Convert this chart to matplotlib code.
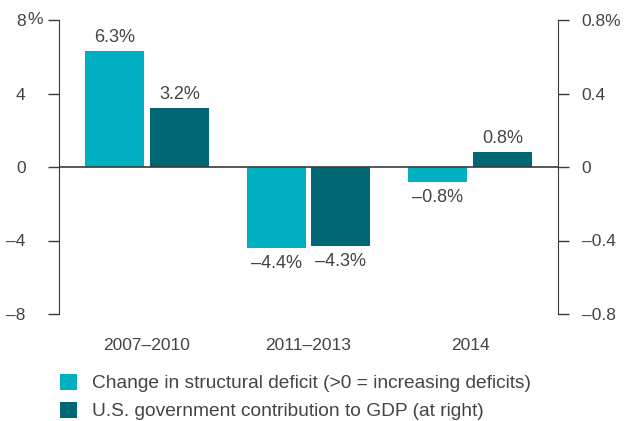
import matplotlib
matplotlib.use("Agg")
import matplotlib.pyplot as plt
import numpy as np

# 데이터
categories = ["2007–2010", "2011–2013", "2014"]
structural_deficit = [6.3, -4.4, -0.8]
gov_contribution = [3.2, -4.3, 0.8]
left_ticks = [-8, -4, 0, 4, 8]
left_tick_labels = ["–8", "–4", "0", "4", "8"]
right_ticks = [-0.8, -0.4, 0, 0.4, 0.8]
right_tick_labels = ["–0.8", "–0.4", "0", "0.4", "0.8%"]
legend_labels = [
    "Change in structural deficit (>0 = increasing deficits)",
    "U.S. government contribution to GDP (at right)",
]

CYAN = "#00b0c2"
DARK = "#006874"
TXT = "#444444"
LINE = "#3a3a3a"
FS = 12.5

plt.rcParams["font.family"] = ["Liberation Sans", "DejaVu Sans"]

fig = plt.figure(figsize=(6.28, 4.21), dpi=100)
ax = fig.add_axes([59 / 628, 1 - 314 / 421, 499 / 628, 294 / 421])

x = np.arange(len(categories))
w = 0.365
off = 0.2
b1 = ax.bar(x - off, structural_deficit, w, color=CYAN, zorder=2)
b2 = ax.bar(x + off, gov_contribution, w, color=DARK, zorder=2)

ax.set_xlim(-0.545, 2.545)
ax.set_ylim(-8, 8)
ax.axhline(0, color=LINE, lw=1.2, zorder=3)

# 막대 라벨
for bars, vals in ((b1, structural_deficit), (b2, gov_contribution)):
    for r, v in zip(bars, vals):
        s = f"{abs(v):.1f}%"
        cx = r.get_x() + r.get_width() / 2
        if v < 0:
            ax.annotate("–" + s, (cx, v), xytext=(0, -5),
                        textcoords="offset points", ha="center", va="top",
                        fontsize=FS + 0.5, color=TXT)
        else:
            ax.annotate(s, (cx, v), xytext=(0, 4),
                        textcoords="offset points", ha="center", va="bottom",
                        fontsize=FS + 0.5, color=TXT)

# 축 스타일
for sp in ("top", "bottom", "right"):
    ax.spines[sp].set_visible(False)
ax.spines["left"].set_color(LINE)
ax.set_yticks(left_ticks)
ax.set_yticklabels(left_tick_labels)
ax.tick_params(axis="y", length=8, width=1, color=LINE, pad=16,
               labelsize=FS, labelcolor=TXT)
ax.set_xticks(x)
ax.set_xticklabels(categories)
ax.tick_params(axis="x", length=0, pad=17, labelsize=FS, labelcolor=TXT)
# 위 눈금의 % 기호
ax.annotate("%", xy=(0, 1), xycoords="axes fraction", xytext=(-32, 0),
            textcoords="offset pixels", ha="left", va="center",
            fontsize=FS, color=TXT)

ax2 = ax.twinx()
ax2.set_ylim(-0.8, 0.8)
for sp in ("top", "bottom", "left"):
    ax2.spines[sp].set_visible(False)
ax2.spines["right"].set_color(LINE)
ax2.set_yticks(right_ticks)
ax2.set_yticklabels(right_tick_labels)
ax2.tick_params(axis="y", length=8, width=1, color=LINE, pad=9,
                labelsize=FS, labelcolor=TXT)

fig.legend([b1, b2], legend_labels, loc="upper left",
           bbox_to_anchor=(60 / 628, 1 - 374 / 421), frameon=False,
           fontsize=13.8, labelcolor=TXT, handlelength=0.88, handleheight=0.88,
           handletextpad=0.8, labelspacing=0.5, borderaxespad=0, borderpad=0)

fig.savefig("out.png", dpi=100)
